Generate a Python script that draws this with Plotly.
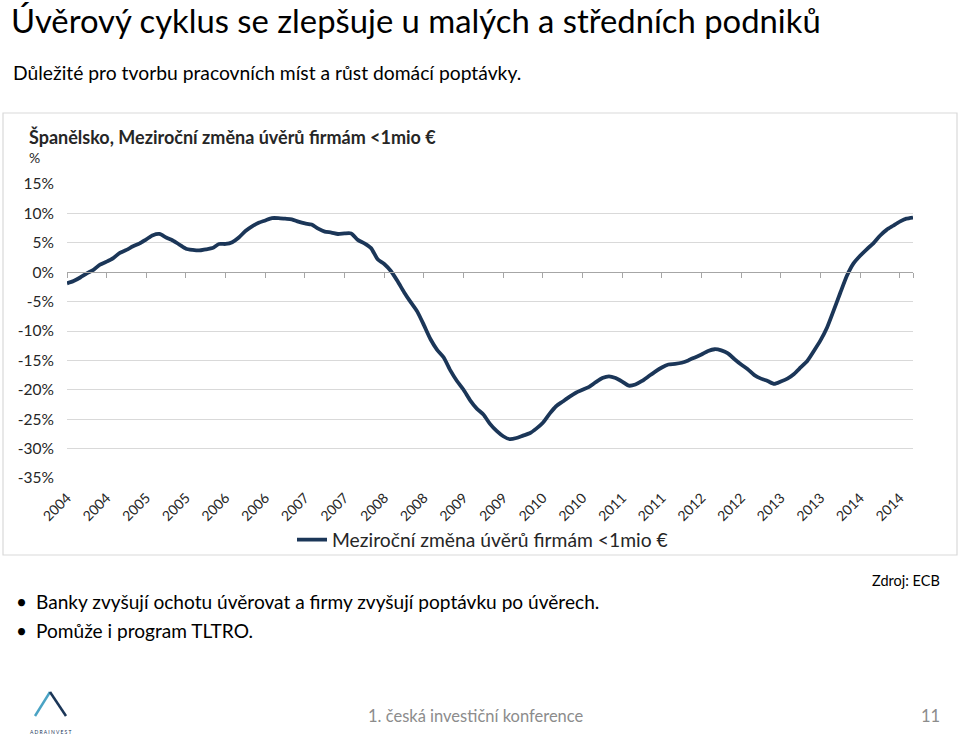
import plotly.graph_objects as go

# ---------------- data ----------------
months = list(range(0, 129))  # month index from Jan 2004 to Sep 2014
values = [
    -1.9, -1.5, -0.9, -0.2, 0.4, 1.3, 1.8, 2.4, 3.3, 3.8, 4.4, 4.9,
    5.6, 6.3, 6.5, 5.9, 5.4, 4.7, 4.0, 3.8, 3.7, 3.9, 4.1, 4.8,
    4.8, 5.1, 5.9, 7.0, 7.8, 8.4, 8.8, 9.2, 9.2, 9.1, 9.0, 8.6,
    8.3, 8.1, 7.4, 6.9, 6.75, 6.5, 6.6, 6.6, 5.5, 4.9, 4.1, 2.2,
    1.4, 0.2, -1.5, -3.4, -5.1, -6.7, -9.0, -11.4, -13.2, -14.5, -16.7, -18.5,
    -20.0, -21.8, -23.2, -24.2, -25.8, -27.0, -27.9, -28.4, -28.2, -27.8, -27.4, -26.6,
    -25.6, -24.1, -22.8, -22.0, -21.2, -20.5, -20.0, -19.5, -18.7, -18.0, -17.7, -18.0,
    -18.6, -19.3, -19.1, -18.5, -17.7, -16.9, -16.2, -15.7, -15.6, -15.4, -15.0, -14.5,
    -14.0, -13.4, -13.1, -13.3, -13.8, -14.8, -15.7, -16.5, -17.5, -18.1, -18.5, -19.0,
    -18.6, -18.1, -17.3, -16.2, -15.1, -13.4, -11.6, -9.4, -6.5, -3.5, -0.6, 1.5,
    2.8, 3.9, 4.9, 6.2, 7.2, 7.9, 8.6, 9.1, 9.3,
]
series_name = "Meziroční změna úvěrů firmám <1mio €"
x_tick_vals = list(range(0, 127, 6))
x_tick_text = ["2004", "2004", "2005", "2005", "2006", "2006", "2007", "2007",
               "2008", "2008", "2009", "2009", "2010", "2010", "2011", "2011",
               "2012", "2012", "2013", "2013", "2014", "2014"]
y_tick_vals = [15, 10, 5, 0, -5, -10, -15, -20, -25, -30, -35]
y_tick_text = ["15%", "10%", "5%", "0%", "-5%", "-10%", "-15%", "-20%", "-25%", "-30%", "-35%"]

# ---------------- layout geometry ----------------
W, H = 959, 739
PL, PR, PT, PB = 67, 913, 184, 478
FONT = "Lato"


def px(x):
    return (x - PL) / (PR - PL)


def py(y):
    return (PB - y) / (PB - PT)


fig = go.Figure()
fig.add_trace(go.Scatter(
    x=months, y=values, mode="lines", name=series_name,
    line=dict(color="#1b3658", width=3.8, shape="spline", smoothing=0.6),
    hoverinfo="skip",
))
# invisible trace to activate the zero-crossing axis
fig.add_trace(go.Scatter(
    x=months, y=values, mode="lines", xaxis="x2", showlegend=False,
    line=dict(color="rgba(0,0,0,0)", width=0), hoverinfo="skip",
))

fig.update_layout(
    width=W, height=H,
    margin=dict(l=PL, r=W - PR, t=PT, b=H - PB),
    paper_bgcolor="white", plot_bgcolor="white",
    font=dict(family=FONT, color="#262626"),
    xaxis=dict(
        range=[0, 128], tickmode="array", tickvals=x_tick_vals, ticktext=x_tick_text,
        tickangle=-45, showgrid=False, zeroline=False, showline=False, ticks="",
        tickfont=dict(size=14, color="#262626"), ticklabelstandoff=8,
    ),
    xaxis2=dict(
        range=[0, 128], overlaying="x", anchor="free", position=0.7,
        tickmode="array", tickvals=x_tick_vals + [128], showticklabels=False,
        showgrid=False, zeroline=False, showline=True, linecolor="#a6a6a6",
        linewidth=1.3, ticks="outside", ticklen=5, tickcolor="#a6a6a6", tickwidth=1,
    ),
    yaxis=dict(
        range=[-35, 15], tickmode="array", tickvals=y_tick_vals, ticktext=y_tick_text,
        showgrid=True, gridcolor="#d9d9d9", gridwidth=1, zeroline=False,
        showline=False, ticks="", tickfont=dict(size=15.5, color="#262626"),
        ticklabelstandoff=12,
    ),
    showlegend=True,
    legend=dict(
        orientation="h", x=px(292), xanchor="left", y=py(540), yanchor="middle",
        font=dict(size=19.3, color="#262626"), itemwidth=30,
        bgcolor="rgba(0,0,0,0)",
    ),
)

annotations = [
    dict(text="Úvěrový cyklus se zlepšuje u malých a středních podniků", x=px(9), y=py(20),
         font=dict(size=32.8, color="#000000")),
    dict(text="Důležité pro tvorbu pracovních míst a růst domácí poptávky.", x=px(11), y=py(73),
         font=dict(size=19.3, color="#000000")),
    dict(text="<b>Španělsko, Meziroční změna úvěrů firmám <1mio €</b>", x=px(27), y=py(137),
         font=dict(size=18, color="#262626")),
    dict(text="%", x=px(27), y=py(158), font=dict(size=14, color="#262626")),
    dict(text="•", x=px(14), y=py(601), font=dict(size=19, color="#000000")),
    dict(text="Banky zvyšují ochotu úvěrovat a firmy zvyšují poptávku po úvěrech.", x=px(34), y=py(601),
         font=dict(size=19.1, color="#000000")),
    dict(text="•", x=px(14), y=py(630), font=dict(size=19, color="#000000")),
    dict(text="Pomůže i program TLTRO.", x=px(34), y=py(630), font=dict(size=19.1, color="#000000")),
    dict(text="Zdroj: ECB", x=px(942), y=py(580), xanchor="right", font=dict(size=14.5, color="#000000")),
    dict(text="1. česká investiční konference", x=px(476), y=py(716), xanchor="center",
         font=dict(size=16.5, color="#8c8c8c")),
    dict(text="11", x=px(942), y=py(716), xanchor="right", font=dict(size=16.5, color="#8c8c8c")),
    dict(text="A D R A I N V E S T", x=px(50), y=py(732), xanchor="center",
         font=dict(size=5, color="#1b3658")),
]
for a in annotations:
    a.setdefault("xanchor", "left")
    fig.add_annotation(xref="paper", yref="paper", showarrow=False, yanchor="middle", **a)

shapes = [
    dict(type="rect", x0=px(3), x1=px(957), y0=py(555), y1=py(113),
         line=dict(color="#d9d9d9", width=1.2)),
    dict(type="line", x0=px(35), y0=py(716), x1=px(50), y1=py(692),
         line=dict(color="#4aa3c4", width=2.5)),
    dict(type="line", x0=px(50), y0=py(692), x1=px(66), y1=py(716),
         line=dict(color="#1b3658", width=2.5)),
]
for s in shapes:
    fig.add_shape(xref="paper", yref="paper", layer="above", **s)

fig.write_html(
    "out.html",
    config={"displayModeBar": False},
    post_script="document.body.style.margin='0';document.body.style.overflow='hidden';",
)
